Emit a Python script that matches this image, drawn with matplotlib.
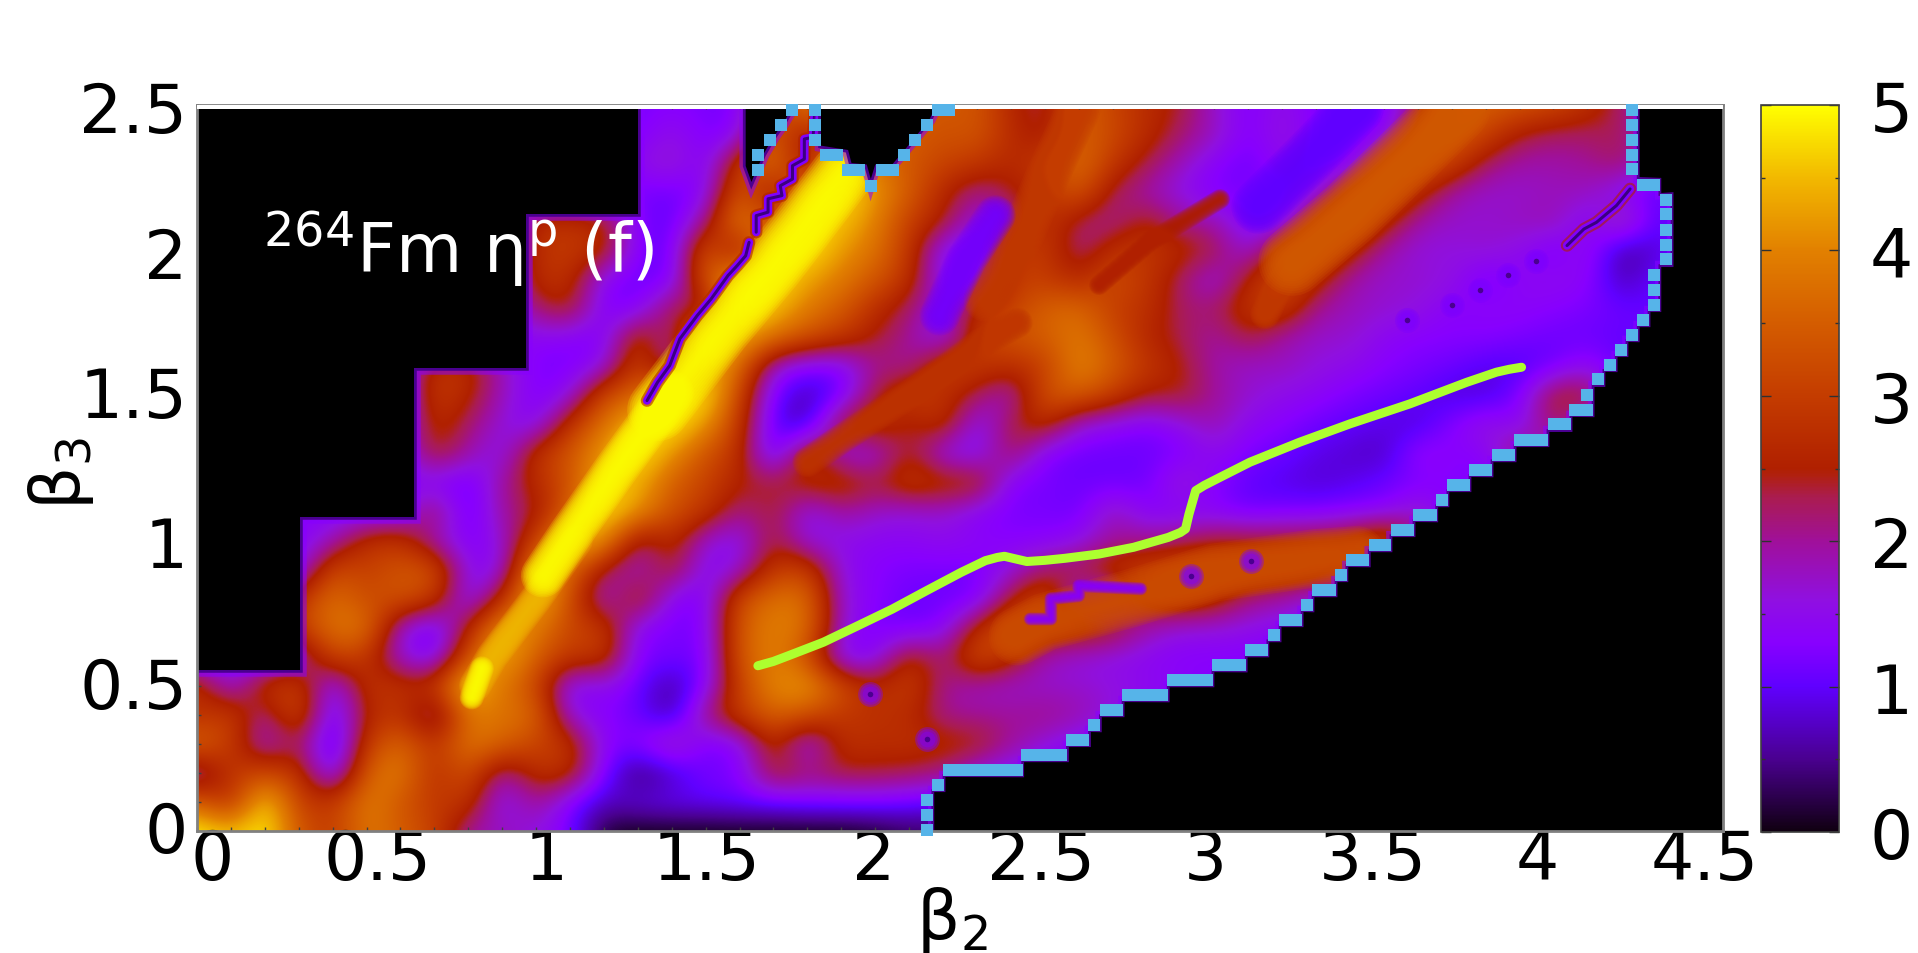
import numpy as np
import matplotlib
matplotlib.use("Agg")
import matplotlib.pyplot as plt
from matplotlib.colors import LinearSegmentedColormap
from matplotlib.ticker import MultipleLocator
from matplotlib.transforms import ScaledTranslation

# eta values, beta3 from 2.5 down to 0, beta2 from 0 to 4.5 in steps of 0.1
eta_rows = [
    [1.2] * 10 + [1.2, 1.2, 1.2, 1.2, 1.3, 1.2, 1.2, 3, 4, 3.5] + [3.5, 3.5, 3.4, 3.4, 2.6, 2.2, 3.6, 3.1, 2.7, 2.4] + [1.7, 1.2, 1.6, 1.2, 1.0, 1.1, 2.2, 3.5, 3.5, 3.4] + [3.2, 2.8, 2.2, 1.5, 1.5, 1.5],
    [1.2] * 10 + [1.2, 1.2, 1.2, 1.2, 1.6, 1.2, 1.3, 3.8, 2.0, 4.0] + [3.6, 3.5, 3.3, 3.4, 2.7, 2.3, 3.6, 3.2, 2.7, 2.2] + [1.8, 1.2, 1.7, 1.2, 1.1, 1.3, 2.8, 3.6, 3.1, 2.4] + [2.2, 2.2, 2.3, 1.5, 1.5, 1.5],
    [1.2] * 10 + [1.2, 1.2, 1.2, 1.5, 1.8, 1.2, 3.0, 4.0, 2.0, 4.6] + [3.8, 3.4, 3.1, 2.9, 2.6, 3.0, 3.8, 2.9, 2.3, 1.8] + [1.3, 1.1, 1.5, 1.1, 1.2, 2.7, 3.6, 3.1, 2.2, 1.9] + [1.9, 2.0, 2.3, 1.5, 1.5, 1.5],
    [1.2] * 10 + [1.2, 1.2, 1.2, 1.2, 1.1, 1.3, 3.6, 2.0, 4.3, 5] + [4.2, 3.5, 2.6, 2.0, 2.4, 2.8, 3.5, 2.2, 1.9, 1.5] + [1.2, 1.2, 1.2, 1.4, 2.8, 3.5, 2.7, 1.9, 1.7, 1.7] + [1.8, 1.8, 1.3, 1.0, 1.2, 1.2],
    [1.3] * 10 + [2.8, 2.8, 2.6, 1.2, 1.0, 2.0, 4.2, 3.0, 5, 4.6] + [4, 3.0, 2.5, 1.5, 2.0, 3.0, 2.2, 2.0, 2.6, 2.0] + [1.9, 1.2, 1.2, 2.7, 3.6, 2.7, 1.9, 1.7, 1.7, 1.8] + [1.9, 1.2, 2.2, 0.9, 1.2, 1.2],
    [1.3] * 10 + [2.8, 3.0, 2.7, 1.2, 1.0, 3.6, 2.0, 4.8, 5, 4.2] + [3.8, 2.9, 1.3, 1.1, 2.9, 3.0, 2.0, 2.8, 2.9, 2.7] + [2.4, 1.5, 3, 3.5, 2.7, 1.9, 1.6, 1.6, 1.7, 1.5] + [1.1, 1.6, 0.5, 0.8, 1.2, 1.2],
    [1.3] * 10 + [2.8, 2.8, 1.3, 1.1, 1.1, 3.5, 4.5, 5, 4.3, 3.9] + [3.4, 2.8, 1.3, 1.3, 3.0, 3.0, 2.6, 3.3, 2.9, 2.2] + [1.5, 2.6, 3.3, 2.7, 1.9, 1.7, 1.7, 1.6, 1.1, 1.4] + [1.5, 1.4, 0.6, 1.1, 1.2, 1.2],
    [1.3] * 10 + [2.2, 2.6, 1.2, 1.2, 2.5, 2.0, 5, 4.6, 3.9, 3.5] + [2.7, 2.2, 1.5, 2.8, 3, 3.6, 3.7, 3.0, 2.8, 2.2] + [2.2, 2.9, 3.0, 2.0, 1.8, 1.7, 1.6, 1.3, 1.4, 1.4] + [1.3, 1.2, 1.1, 1.0, 1.2, 1.2],
    [1.3] * 10 + [1.4, 1.3, 1.2, 3, 1.7, 5, 4.5, 3.8, 3.3, 2.9] + [2.4, 2.0, 1.3, 2.9, 3.4, 3.5, 3.9, 3.3, 2.6, 2.3] + [1.9, 2.4, 1.9, 1.7, 1.7, 1.4, 1.3, 1.3, 1.3, 1.2] + [1.1, 1.1, 1.0, 1.2, 1.2, 1.2],
    [1.3] * 7 + [2.9, 2.8, 1.8] + [1.2, 1.2, 1.5, 3.2, 1.5, 4.7, 3.7, 1.6, 1.2, 1.2] + [2.1, 1.9, 3.1, 3.0, 2.7, 3, 4.1, 3.5, 2.9, 2.5] + [1.9, 1.7, 1.8, 1.6, 1.5, 1.3, 1.2, 1.1, 0.9, 0.9] + [1.1, 1.5, 1.0, 1.2, 1.2, 1.2],
    [1.3] * 7 + [3.0, 2.6, 1.8] + [1.2, 1.5, 3.3, 3.6, 4.8, 5, 3.1, 1.1, 0.6, 1.1] + [2.4, 3.1, 2.8, 2.2, 1.7, 3.4, 3.5, 3.0, 2.4, 2.5] + [2.0, 1.7, 1.5, 1.4, 1.2, 1.1, 1.0, 0.8, 0.8, 1.2] + [2.6, 2.6, 1.0, 1.2, 1.2, 1.2],
    [1.3] * 7 + [2.8, 2.2, 1.6] + [1.3, 2.9, 3.8, 4.7, 5, 4.2, 2.9, 0.9, 0.6, 2.7] + [3.0, 2.3, 2.9, 1.3, 2.4, 2.8, 1.6, 1.4, 1.2, 1.5] + [1.9, 1.4, 1.3, 1.1, 1.0, 0.9, 0.8, 1.3, 1.7, 1.3] + [2.4, 1.3, 1.2, 1.2, 1.2, 1.2],
    [1.3] * 7 + [2.6, 1.9, 1.4] + [2.9, 3.4, 4.3, 5, 4.2, 3.3, 2.8, 0.8, 3, 1.5] + [1.5, 2.6, 1.4, 1.3, 2.4, 1.2, 1.1, 1.1, 1.1, 1.2] + [1.5, 1.2, 1.1, 0.9, 0.8, 0.7, 1.5, 1.3, 1.3, 2.4] + [1.3, 1.2, 1.2, 1.2, 1.2, 1.2],
    [1.3] * 7 + [1.3, 1.0, 2.0] + [2.7, 3.3, 4.6, 4.5, 3.5, 3.1, 2.5, 2.4, 2.7, 2.9] + [2.4, 3.0, 2.8, 2.8, 1.2, 1.2, 1.1, 1.1, 1.1, 1.8] + [1.3, 1.0, 0.9, 0.8, 0.9, 1.1, 1.2, 1.3, 1.2, 1.2] + [1.2] * 6,
    [1.3] * 7 + [2.4, 0.9, 2.0] + [2.3, 3.6, 5, 4.2, 3.3, 2.9, 2.0, 2.5, 1.4, 2.0] + [1.7, 1.6, 1.7, 1.3, 1.2, 1.2, 1.1, 1.9, 1.3, 1.3] + [1.3, 1.1, 1.2, 1.2, 1.3, 1.3, 1.8, 1.2, 1.2, 1.2] + [1.2] * 6,
    [1.3, 1.3, 1.3, 1.3, 1.8, 2.8, 2.9, 1.8, 1.2, 1.6] + [3.1, 4.8, 4.3, 2.0, 2.8, 1.6, 1.4, 2.5, 1.5, 1.5] + [1.4, 1.4, 1.5, 1.4, 1.3, 1.3, 1.5, 2.0, 2.0, 2.2] + [2.5, 2.5, 2.5, 2.6, 2.8, 3.6, 2.0, 1.2, 1.2, 1.2] + [1.2] * 6,
    [1.3, 1.3, 1.3, 1.3, 3.3, 3.0, 3.4, 3.4, 1.4, 1.4] + [4.6, 3.7, 2.2, 1.7, 2.6, 1.3, 1.6, 3.0, 3.1, 1.5] + [1.3, 1.2, 1.2, 1.2, 1.6, 2.3, 2.4, 2.9, 3.1, 3.3] + [3.2, 3.1, 3.1, 3.0, 2.3, 1.3, 1.2, 1.2, 1.2, 1.2] + [1.2] * 6,
    [1.3, 1.3, 1.3, 2.9, 3.8, 3.2, 3.4, 3.0, 1.2, 2.7] + [4.7, 3.3, 1.5, 2.9, 1.3, 1.2, 3.3, 3.8, 3.8, 1.6] + [1.3, 1.1, 1.1, 1.1, 2.5, 3.2, 1.4, 1.3, 2.8, 3.1] + [2.8, 2.1, 1.9, 1.5, 1.2, 1.2, 1.2, 1.2, 1.2, 1.2] + [1.2] * 6,
    [1.3, 1.3, 1.3, 3.1, 3.8, 3.9, 1.6, 1.0, 2.5, 4.4] + [4.0, 3.1, 3.0, 1.3, 1.2, 1.2, 3.5, 4.0, 3.8, 1.6] + [1.2, 1.1, 1.3, 2.7, 3.6, 3.0, 3.0, 2.7, 1.9, 1.6] + [1.6, 1.5, 1.4] + [1.2] * 13,
    [1.3, 1.3, 1.3, 1.6, 3.2, 2.9, 1.6, 1.1, 3.4, 4.6] + [3.5, 2.9, 3.0, 1.2, 1.2, 1.1, 3.5, 4.0, 3.3, 1.2] + [1.3, 2.8, 2.0, 3.4, 2.7, 1.8, 1.6, 1.5, 1.4, 1.3] + [1.3, 1.3] + [1.2] * 14,
    [2.9, 1.5, 2.9, 3.1, 1.2, 2.9, 2.8, 2.9, 4.9, 3.8] + [3.2, 1.2, 1.5, 1.1, 0.5, 1.3, 3.1, 4.1, 4.3, 3.3] + [2.6, 3.1, 2.0, 1.8, 1.7, 1.7, 1.7, 1.6, 1.5, 1.4] + [1.3] + [1.2] * 15,
    [2.7, 3.1, 1.9, 3.4, 0.9, 2.6, 2.9, 1.6, 3.9, 3.8] + [3.7, 1.5, 1.3, 1.1, 0.5, 2.2, 3.0, 3.6, 3.3, 2.9] + [2.8, 2.7, 2.0, 2.0, 2.0, 2.1, 1.9, 1.6, 1.3, 1.2] + [1.2] * 16,
    [3.7, 3.0, 1.6, 2.4, 0.6, 3.0, 3.7, 2.8, 3.9, 3.6] + [3.1, 2.9, 1.3, 1.3, 2.1, 1.1, 1.3, 2.8, 1.3, 2.8] + [2.7, 2.8, 2.7, 2.6, 2.0, 1.6, 1.3, 1.2, 1.2, 1.2] + [1.2] * 16,
    [1.6, 2.9, 3.2, 2.9, 1.0, 3.6, 4.0, 2.7, 3.4, 1.8] + [2.8, 2.8, 1.2, 0.3, 0.7, 1.2, 1.2, 2.6, 2.2, 2.4] + [2.4, 2.3, 2.1, 1.5, 1.3, 1.2, 1.2, 1.2, 1.2, 1.2] + [1.2] * 16,
    [3.6, 2.6, 4.9, 3.0, 2.9, 4.0, 3.4, 2.9, 2.9, 1.3] + [2.1, 1.2, 0.7, 0.9, 1.0, 1.0, 1.1, 1.1, 1.2, 1.2] + [1.2, 1.1, 1.0, 1.0, 1.0, 1.0, 1.0, 1.0, 1.0, 1.0] + [1.2] * 16,
    [5, 4.5, 5, 3.4, 2.9, 3.9, 3.5, 3.1, 1.9, 1.8] + [1.6, 1.2, 0.1, 0, 0, 0, 0, 0, 0, 0] + [0.1, 0.3, 0.3, 0.3, 0.3, 0.3, 0.3, 0.3, 0.3, 0.3] + [0.3] * 16,
]

# fission path
path_b2 = [1.654, 1.70, 1.745, 1.847, 1.949, 2.050, 2.152, 2.254, 2.325, 2.36, 2.381, 2.41, 2.447, 2.50, 2.559, 2.661, 2.762, 2.864, 2.90, 2.915, 2.925, 2.945, 2.97, 3.017, 3.105, 3.252, 3.400, 3.577, 3.744, 3.832, 3.87, 3.906]
path_b3 = [0.569, 0.584, 0.604, 0.650, 0.707, 0.764, 0.828, 0.891, 0.931, 0.942, 0.946, 0.938, 0.928, 0.932, 0.939, 0.954, 0.977, 1.011, 1.028, 1.040, 1.09, 1.172, 1.19, 1.218, 1.270, 1.339, 1.402, 1.471, 1.545, 1.580, 1.59, 1.597]

# blue boundary points, one list of beta2 per row of beta3
edge_b3 = [0.005, 0.056, 0.108, 0.160, 0.211, 0.263, 0.315, 0.366, 0.418, 0.469, 0.521, 0.572, 0.624, 0.676, 0.728, 0.779, 0.831, 0.883, 0.934, 0.986, 1.038, 1.089, 1.141, 1.193, 1.244, 1.296, 1.348, 1.400, 1.451, 1.503, 1.555, 1.606, 1.658, 1.709, 1.761, 1.813, 1.864, 1.916, 1.968, 2.019, 2.071, 2.123, 2.174, 2.223, 2.278, 2.329, 2.381, 2.432, 2.484]
edge_b2 = [
    [2.152], [2.152], [2.152], [2.185],
    [2.218, 2.250, 2.283, 2.315, 2.348, 2.383, 2.417],
    [2.448, 2.481, 2.516, 2.549], [2.581, 2.614], [2.646], [2.681, 2.713],
    [2.746, 2.779, 2.811, 2.846], [2.879, 2.912, 2.945, 2.978],
    [3.012, 3.044, 3.076], [3.108, 3.140], [3.176], [3.208, 3.241], [3.273],
    [3.306, 3.341], [3.373], [3.406, 3.439], [3.474, 3.503], [3.538, 3.571],
    [3.603, 3.638], [3.671], [3.704, 3.736], [3.769, 3.801], [3.837, 3.869],
    [3.901, 3.934, 3.966], [4.002, 4.034], [4.065, 4.099], [4.099], [4.131],
    [4.167], [4.199], [4.232], [4.264], [4.296], [4.296], [4.296],
    [4.332], [4.332], [4.332], [4.332], [4.332], [4.265, 4.296],
    [4.232], [4.232], [4.232], [4.232], [4.232],
]
top_b2 = [1.654, 1.654, 1.690, 1.722, 1.754, 1.822, 1.822, 1.822, 1.854, 1.888, 1.920, 1.953, 1.987, 2.020, 2.053, 2.085, 2.118, 2.152, 2.185, 2.217]
top_b3 = [2.277, 2.329, 2.381, 2.432, 2.484, 2.484, 2.432, 2.381, 2.329, 2.329, 2.277, 2.277, 2.222, 2.277, 2.277, 2.329, 2.381, 2.432, 2.484, 2.484]

# black regions with no data
left_b2 = [0, 0.305, 0.305, 0.64, 0.64, 0.97, 0.97, 1.3, 1.3, 0]
left_b3 = [0.555, 0.555, 1.08, 1.08, 1.595, 1.595, 2.125, 2.125, 2.5, 2.5]
gap1_b2 = [1.618, 1.618, 1.635, 1.67, 1.70, 1.73, 1.76]
gap1_b3 = [2.5, 2.29, 2.235, 2.33, 2.39, 2.44, 2.5]
gap2_b2 = [1.84, 1.84, 1.92, 1.93, 1.975, 1.987, 2.0, 2.05, 2.09, 2.125, 2.16, 2.18]
gap2_b3 = [2.5, 2.36, 2.345, 2.30, 2.295, 2.245, 2.295, 2.295, 2.35, 2.40, 2.45, 2.5]

# narrow crests and troughs the 0.1 grid is too coarse for: centre line, full width in px, eta at the centre
streaks = [
    ([1.80, 1.90, 2.11, 2.23, 2.31, 2.42], [1.27, 1.35, 1.51, 1.61, 1.68, 1.75], 30, 2.9),
    ([2.325, 2.437, 2.508, 2.60], [1.83, 2.06, 2.257, 2.487], 44, 3.0),
    ([2.66, 2.81, 3.017], [1.88, 2.03, 2.176], 20, 2.5),
    ([2.19, 2.27, 2.355], [1.775, 1.97, 2.12], 40, 1.15),
    ([3.13, 3.27, 3.42], [2.15, 2.31, 2.49], 54, 1.0),
    ([3.15, 3.19, 3.25], [1.78, 1.88, 1.98], 30, 3.0),
    ([3.23, 3.40, 3.55, 3.714], [1.96, 2.13, 2.30, 2.49], 68, 3.5),
    ([2.42, 2.50, 2.75, 3.00, 3.30, 3.42], [0.67, 0.72, 0.80, 0.89, 0.94, 0.95], 58, 3.3),
    ([2.457, 2.518, 2.518, 2.60, 2.60, 2.783], [0.73, 0.73, 0.80, 0.81, 0.845, 0.834], 13, 1.3),
    ([0.82, 0.87, 1.0, 1.12], [0.5, 0.6, 0.8, 1.0], 32, 4.5),
    ([0.81, 0.84], [0.46, 0.56], 24, 5),
    ([1.02, 1.10, 1.236, 1.40], [0.88, 1.02, 1.247, 1.51], 44, 5),
    ([1.36, 1.542, 1.697, 1.847, 1.90], [1.45, 1.73, 1.947, 2.177, 2.26], 62, 5),
]

# thin low ridges
ridge1_b2 = [1.327, 1.358, 1.394, 1.424, 1.475, 1.516, 1.566, 1.593, 1.618, 1.628]
ridge1_b3 = [1.482, 1.545, 1.603, 1.695, 1.775, 1.832, 1.913, 1.947, 1.981, 2.027]
ridge2_b2 = [1.649, 1.649, 1.684, 1.684, 1.725, 1.72, 1.756, 1.756, 1.791, 1.791, 1.817, 1.822]
ridge2_b3 = [2.062, 2.119, 2.131, 2.177, 2.188, 2.222, 2.245, 2.291, 2.314, 2.383, 2.389, 2.486]
ridge3_b2 = [4.04, 4.09, 4.127, 4.186, 4.226]
ridge3_b3 = [2.016, 2.073, 2.096, 2.154, 2.211]
spot_b2 = [3.95, 3.867, 3.783, 3.70, 3.569, 2.93, 3.108, 1.984, 2.152]
spot_b3 = [1.964, 1.913, 1.864, 1.81, 1.761, 0.879, 0.931, 0.472, 0.317]

cmap_levels = [0, 0.5, 1, 1.3, 1.6, 2, 2.3, 2.45, 2.5, 3, 3.5, 4, 4.5, 5]
cmap_colors = ["#100010", "#4a0090", "#6000ff", "#8800ff", "#9010e0", "#a0109a", "#aa1c50", "#b02010", "#b02000", "#c43c00", "#d45c00", "#e28000", "#f2b800", "#ffff00"]
cmap = LinearSegmentedColormap.from_list("eta", [(v / 5, c) for v, c in zip(cmap_levels, cmap_colors)], N=512)

xticks = [0, 0.5, 1, 1.5, 2, 2.5, 3, 3.5, 4, 4.5]
xlabels = ["0", "0.5", "1", "1.5", "2", "2.5", "3", "3.5", "4", "4.5"]
xshift = [15, 11, 10, 1, -2, -4, -9, -11, -16, -18]
yticks = [0, 0.5, 1, 1.5, 2, 2.5]
ylabels = ["0", "0.5", "1", "1.5", "2", "2.5"]
yshift = [5, 4, 0, 4, -2, -1]

W, H = 1918, 954
fig = plt.figure(figsize=(W / 100, H / 100), dpi=100)
ax = fig.add_axes([197 / W, (H - 832) / H, 1526 / W, 726 / H])
cax = fig.add_axes([1761 / W, (H - 833) / H, 78 / W, 727 / H])

eta = np.array(eta_rows)[::-1]
im = ax.imshow(eta, origin="lower", extent=[-0.05, 4.55, -0.05, 2.55], cmap=cmap, vmin=0, vmax=5,
               aspect="auto", interpolation="bicubic", interpolation_stage="data", zorder=1)


def black_region(xs, ys):
    ax.fill(xs, ys, color="#8800ff", lw=9, alpha=0.55, zorder=2.2)
    ax.fill(xs, ys, color="#4a0090", lw=4, zorder=2.3)
    ax.fill(xs, ys, color="black", lw=0, zorder=2.4)


def ridge(xs, ys):
    ax.plot(xs, ys, color="#b02000", lw=9, alpha=0.6, solid_capstyle="round", zorder=2)
    ax.plot(xs, ys, color="#8000ff", lw=6, solid_capstyle="round", zorder=2.05)
    ax.plot(xs, ys, color="#3a0080", lw=2.2, solid_capstyle="round", zorder=2.1)


# soft streaks: stacked translucent strokes, narrower towards the centre
for xs, ys, width, level in streaks:
    for frac in np.linspace(1, 0.08, 14):
        ax.plot(xs, ys, color=cmap(level / 5), alpha=0.2, lw=width * 0.72 * frac,
                solid_capstyle="round", solid_joinstyle="round", zorder=1.5)

# lower right region follows the blue points row by row
stair_x, stair_y = [2.17], [0.0]
for y, row in zip(edge_b3, edge_b2):
    stair_x += [max(row) + 0.022, max(row) + 0.022]
    stair_y += [y - 0.026, y + 0.026]
stair_x += [stair_x[-1], 4.5, 4.5]
stair_y += [2.5, 2.5, 0.0]
black_region(stair_x, stair_y)
black_region(left_b2, left_b3)
black_region(gap1_b2, gap1_b3)
black_region(gap2_b2, gap2_b3)

ridge(ridge1_b2, ridge1_b3)
ridge(ridge2_b2, ridge2_b3)
ridge(ridge3_b2, ridge3_b3)
for size in [320, 220, 130]:
    ax.scatter(spot_b2, spot_b3, s=size, color="#7c00ff", alpha=0.4, lw=0, zorder=2)
ax.scatter(spot_b2, spot_b3, s=16, color="#4a0090", lw=0, zorder=2.1)

ax.axhspan(2.487, 2.5, color="white", lw=0, zorder=3)

pts_x = [x for row in edge_b2 for x in row] + top_b2
pts_y = [y for y, row in zip(edge_b3, edge_b2) for _ in row] + top_b3
ax.scatter(pts_x, pts_y, marker="s", s=78, color="#56b4e9", lw=0, zorder=5, clip_on=False)
ax.plot(path_b2, path_b3, color="#adff2f", lw=6.5, solid_capstyle="round", solid_joinstyle="round", zorder=6)

ax.set_xlim(0, 4.5)
ax.set_ylim(0, 2.5)
ax.set_xticks(xticks, xlabels)
ax.set_yticks(yticks, ylabels)
ax.xaxis.set_minor_locator(MultipleLocator(0.1))
ax.yaxis.set_minor_locator(MultipleLocator(0.1))
ax.tick_params(which="both", direction="in", top=True, right=True, color="#404040", width=1, length=3, zorder=7)
ax.tick_params(axis="x", which="major", labelsize=49, pad=-3)
ax.tick_params(axis="y", which="major", labelsize=49, pad=7)
for side in ax.spines.values():
    side.set_color("#808080")
    side.set_linewidth(2)
for lbl, dx in zip(ax.get_xticklabels(), xshift):
    lbl.set_transform(lbl.get_transform() + ScaledTranslation(dx / 100, 0, fig.dpi_scale_trans))
for lbl, dy in zip(ax.get_yticklabels(), yshift):
    lbl.set_transform(lbl.get_transform() + ScaledTranslation(0, dy / 100, fig.dpi_scale_trans))

ax.text(0.195, 1.925, r"$^{264}$Fm η$^{\mathrm{p}}$ (f)", color="white", fontsize=49, zorder=8)
fig.text(952 / W, 1 - 920 / H, r"β$_2$", fontsize=49, ha="center", va="center")
fig.text(61 / W, 1 - 474 / H, r"β$_3$", fontsize=49, ha="center", va="center", rotation=90)

cb = fig.colorbar(im, cax=cax, ticks=[0, 1, 2, 3, 4, 5])
cb.ax.yaxis.set_minor_locator(MultipleLocator(0.5))
cb.ax.tick_params(which="both", direction="in", left=True, right=True, color="#303030", width=1, length=7)
cb.ax.tick_params(which="minor", length=3)
cb.ax.tick_params(which="major", labelsize=49, pad=22)
cb.outline.set_edgecolor("#404040")
cb.outline.set_linewidth(1.2)

fig.savefig("out.png", dpi=100)
